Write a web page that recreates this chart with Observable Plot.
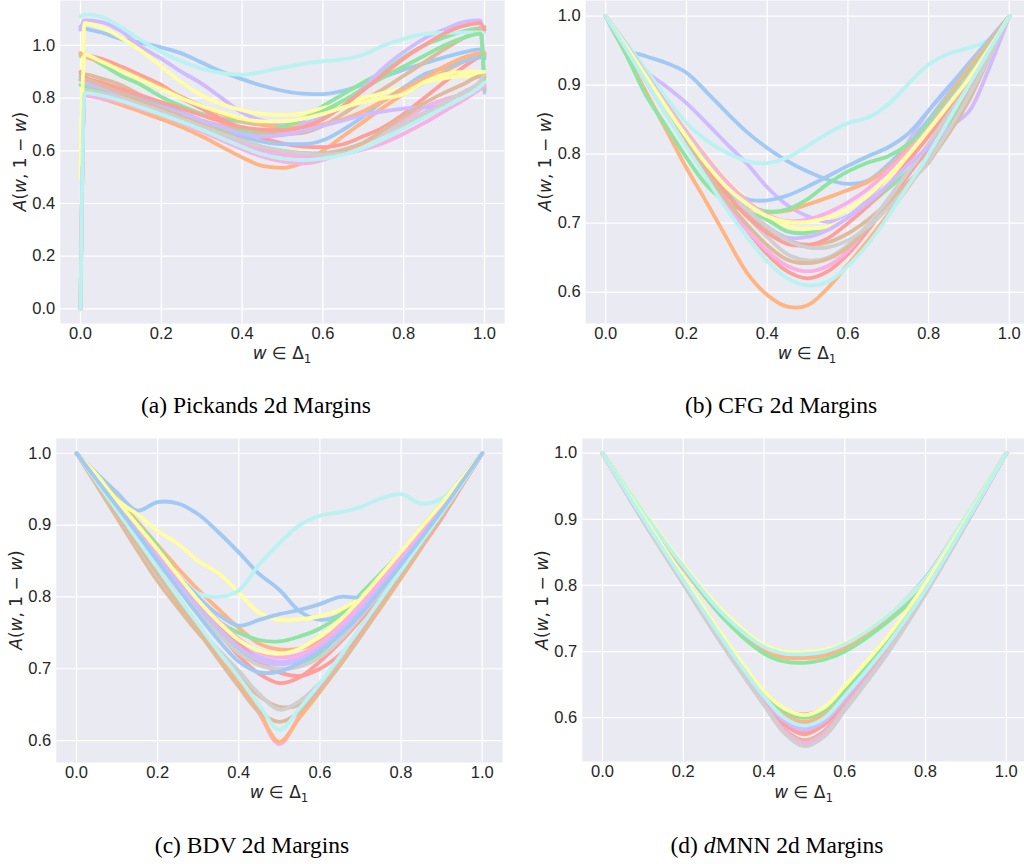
<!DOCTYPE html>
<html><head><meta charset="utf-8">
<script src="https://cdn.jsdelivr.net/npm/d3@7"></script>
<script src="https://cdn.jsdelivr.net/npm/@observablehq/plot@0.6"></script>
<style>
html,body{margin:0;padding:0;background:#fff;overflow:hidden;width:1024px;height:864px;}
#root{position:relative;width:1024px;height:864px;overflow:hidden;}
</style></head><body>
<div id="root"></div>
<script>
// seaborn "pastel" palette
const palette = ["#a1c9f4","#ffb482","#8de5a1","#ff9f9b","#d0bbff","#debb9b","#fab0e4","#cfcfcf","#fffea3","#b9f2f0"];

const xTicks = [0, 0.2, 0.4, 0.6, 0.8, 1.0];
const yTicksA = [0, 0.2, 0.4, 0.6, 0.8, 1.0];
const yTicksBCD = [0.6, 0.7, 0.8, 0.9, 1.0];

// w grids
const gridA = [0,.01,.05,.1,.15,.2,.25,.3,.35,.4,.45,.5,.55,.6,.65,.7,.75,.8,.85,.9,.95,.99,1];
const gridBC = [0,.05,.1,.15,.2,.25,.3,.35,.4,.45,.5,.55,.6,.65,.7,.75,.8,.85,.9,.95,1];
const gridD = [0,.1,.2,.3,.4,.45,.5,.55,.6,.7,.8,.9,1];

// (a) Pickands estimates
const pickands = [
[1.07,1.065,1.05,1.025,1.01,.993,.97,.935,.9,.872,.847,.828,.817,.815,.828,.852,.88,.908,.932,.955,.975,.985,.96],
[0,.815,.80,.775,.748,.72,.69,.655,.615,.575,.543,.535,.555,.60,.655,.71,.765,.815,.86,.90,.94,.965,.97],
[.96,.96,.93,.885,.85,.805,.77,.74,.722,.71,.70,.70,.72,.77,.815,.86,.90,.955,1.0,1.03,1.055,1.067,1.07],
[.97,.965,.95,.92,.886,.85,.80,.76,.72,.685,.65,.628,.616,.614,.625,.655,.69,.74,.80,.86,.92,.96,.97],
[1.06,1.095,1.09,1.055,.995,.95,.9,.855,.8,.745,.715,.705,.705,.73,.78,.84,.915,.975,1.025,1.06,1.09,1.095,.82],
[.89,.89,.875,.85,.81,.775,.74,.715,.695,.68,.668,.663,.668,.695,.74,.79,.835,.885,.935,.985,1.03,1.06,1.06],
[0,.81,.80,.785,.76,.735,.705,.673,.64,.607,.578,.56,.552,.565,.60,.63,.675,.715,.765,.795,.815,.835,.84],
[0,.82,.812,.795,.772,.748,.72,.69,.66,.632,.605,.59,.585,.59,.605,.63,.665,.705,.745,.785,.825,.86,.88],
[.5,1.085,1.07,1.03,.98,.92,.86,.81,.777,.754,.74,.736,.742,.762,.78,.80,.82,.84,.86,.875,.885,.885,.87],
[1.11,1.118,1.11,1.07,1.02,.975,.94,.912,.895,.889,.9,.915,.93,.94,.947,.965,1.0,1.025,1.043,1.048,1.05,1.05,1.05],
[.88,.86,.845,.822,.798,.772,.745,.715,.685,.655,.635,.625,.625,.64,.68,.73,.79,.84,.89,.915,.94,.955,.95],
[.97,.96,.94,.91,.875,.84,.805,.77,.74,.715,.698,.69,.69,.70,.72,.75,.79,.835,.875,.92,.955,.97,.97],
[.85,.845,.83,.80,.77,.74,.71,.69,.68,.676,.675,.69,.72,.75,.79,.835,.88,.92,.96,1.0,1.03,1.045,.83],
[.9,.88,.86,.835,.81,.785,.76,.735,.71,.69,.68,.678,.69,.72,.77,.83,.89,.95,1.0,1.045,1.075,1.085,1.06],
[.87,.86,.84,.815,.79,.765,.74,.715,.69,.665,.655,.66,.675,.695,.715,.735,.75,.76,.765,.77,.8,.85,.85],
[.87,.87,.85,.82,.79,.76,.73,.70,.67,.64,.615,.6,.592,.59,.603,.63,.68,.73,.78,.82,.855,.883,.88],
[0,.815,.805,.79,.768,.742,.715,.685,.655,.625,.6,.585,.578,.58,.59,.605,.63,.665,.705,.75,.795,.835,.845],
[0,.83,.82,.80,.775,.75,.722,.693,.665,.638,.615,.6,.59,.585,.59,.61,.645,.69,.735,.78,.825,.865,.89],
[.55,.965,.94,.905,.87,.835,.8,.77,.745,.722,.712,.712,.722,.74,.765,.785,.8,.815,.86,.89,.9,.9,.9],
[0,.82,.81,.79,.765,.738,.71,.68,.648,.615,.587,.57,.565,.57,.585,.61,.645,.685,.725,.765,.805,.845,.86]
];

// (b) CFG estimates
const cfg = [
[1,.953,.942,.932,.918,.89,.86,.832,.809,.79,.775,.763,.757,.762,.785,.815,.85,.888,.925,.962,1],
[1,.945,.89,.835,.78,.73,.678,.628,.596,.579,.581,.606,.64,.675,.713,.753,.795,.845,.895,.948,1],
[1,.945,.885,.84,.795,.755,.73,.717,.705,.688,.686,.695,.708,.726,.75,.776,.804,.845,.895,.947,1],
[1,.955,.91,.865,.82,.775,.73,.69,.655,.63,.62,.63,.655,.69,.73,.77,.81,.855,.9,.95,1],
[1,.96,.92,.898,.874,.845,.815,.786,.752,.726,.71,.702,.71,.735,.77,.818,.863,.898,.93,.965,1],
[1,.955,.91,.866,.822,.78,.742,.713,.69,.675,.669,.672,.685,.705,.73,.76,.788,.835,.89,.945,1],
[1,.952,.905,.858,.812,.768,.725,.69,.66,.638,.63,.638,.66,.695,.735,.775,.815,.86,.905,.952,1],
[1,.955,.91,.865,.822,.782,.745,.71,.68,.655,.646,.65,.668,.698,.735,.775,.815,.86,.905,.952,1],
[1,.96,.918,.875,.835,.797,.762,.735,.712,.696,.692,.695,.708,.728,.758,.795,.835,.875,.915,.958,1],
[1,.962,.922,.882,.845,.82,.802,.79,.787,.795,.812,.83,.845,.853,.872,.902,.93,.946,.954,.966,1],
[1,.958,.915,.872,.83,.79,.757,.735,.733,.74,.753,.768,.783,.797,.81,.83,.863,.897,.932,.966,1],
[1,.955,.91,.866,.822,.78,.745,.725,.716,.718,.727,.737,.748,.76,.78,.81,.845,.885,.925,.962,1],
[1,.952,.905,.86,.815,.775,.745,.727,.717,.72,.735,.757,.775,.788,.797,.815,.845,.88,.918,.958,1],
[1,.955,.91,.865,.82,.78,.742,.71,.686,.67,.668,.678,.7,.725,.755,.79,.826,.868,.91,.955,1],
[1,.958,.915,.872,.83,.79,.752,.72,.695,.679,.68,.69,.708,.73,.756,.785,.81,.838,.862,.925,1],
[1,.955,.908,.862,.817,.773,.733,.698,.668,.647,.642,.648,.665,.693,.725,.758,.79,.83,.878,.94,1],
[1,.958,.915,.873,.833,.795,.76,.732,.712,.703,.705,.715,.73,.75,.776,.805,.838,.875,.913,.955,1],
[1,.957,.914,.87,.828,.788,.752,.72,.695,.675,.665,.665,.675,.695,.722,.755,.79,.835,.885,.94,1],
[1,.957,.913,.868,.825,.785,.752,.728,.71,.702,.702,.708,.72,.74,.768,.8,.835,.872,.91,.953,1],
[1,.953,.905,.858,.81,.765,.72,.68,.645,.62,.61,.615,.638,.67,.71,.755,.8,.85,.9,.95,1]
];

// (c) BDV estimates
const bdv = [
[1,.972,.945,.92,.932,.93,.915,.89,.862,.832,.81,.78,.768,.775,.795,.825,.86,.895,.93,.965,1],
[1,.968,.937,.905,.872,.84,.81,.783,.757,.735,.727,.728,.738,.76,.79,.825,.86,.895,.93,.965,1],
[1,.968,.935,.903,.87,.83,.79,.766,.75,.74,.738,.745,.756,.775,.804,.833,.862,.897,.93,.965,1],
[1,.965,.93,.893,.855,.818,.782,.75,.718,.693,.68,.688,.71,.737,.768,.80,.835,.87,.91,.955,1],
[1,.966,.932,.896,.86,.824,.79,.76,.735,.717,.71,.715,.73,.755,.785,.82,.852,.888,.925,.962,1],
[1,.955,.91,.865,.822,.785,.75,.72,.69,.662,.647,.65,.675,.71,.75,.79,.83,.873,.915,.958,1],
[1,.96,.92,.88,.84,.8,.76,.72,.68,.638,.595,.635,.675,.715,.757,.798,.838,.878,.918,.958,1],
[1,.958,.915,.872,.83,.792,.757,.726,.697,.665,.643,.655,.68,.713,.75,.79,.83,.872,.914,.957,1],
[1,.97,.935,.915,.892,.874,.85,.833,.806,.778,.768,.769,.773,.782,.8,.825,.855,.89,.925,.962,1],
[1,.965,.932,.895,.86,.83,.805,.80,.809,.845,.875,.9,.913,.918,.925,.937,.943,.93,.937,.965,1],
[1,.965,.93,.893,.86,.83,.8,.775,.76,.768,.776,.782,.79,.80,.80,.826,.858,.893,.928,.964,1],
[1,.96,.92,.88,.84,.8,.76,.72,.68,.64,.598,.632,.668,.706,.745,.785,.826,.868,.91,.955,1],
[1,.965,.93,.893,.857,.82,.785,.755,.728,.708,.699,.705,.722,.748,.78,.815,.85,.885,.922,.96,1],
[1,.966,.932,.896,.86,.825,.79,.76,.735,.71,.695,.69,.70,.72,.75,.79,.83,.87,.91,.955,1],
[1,.964,.928,.892,.856,.82,.786,.756,.73,.712,.706,.712,.728,.752,.782,.815,.85,.886,.922,.96,1],
[1,.958,.915,.873,.832,.792,.752,.713,.675,.64,.626,.64,.67,.705,.745,.787,.828,.87,.912,.956,1],
[1,.966,.932,.897,.862,.828,.795,.767,.742,.723,.716,.72,.735,.76,.79,.823,.857,.89,.926,.963,1],
[1,.962,.925,.888,.85,.813,.778,.748,.722,.705,.70,.703,.716,.74,.772,.806,.84,.877,.916,.957,1],
[1,.967,.934,.9,.866,.83,.795,.765,.74,.725,.721,.728,.745,.768,.797,.83,.863,.897,.93,.965,1],
[1,.96,.92,.88,.84,.8,.762,.724,.688,.65,.615,.645,.68,.718,.757,.797,.837,.877,.917,.958,1],
[1,.963,.926,.888,.85,.812,.775,.74,.71,.695,.696,.708,.725,.748,.776,.81,.845,.882,.92,.96,1]
];

// (d) dMNN estimates
const dmnn = [
[1,.912,.826,.752,.705,.694,.693,.697,.708,.750,.812,.905,1],
[1,.911,.826,.751,.702,.691,.690,.694,.705,.747,.806,.902,1],
[1,.913,.828,.750,.697,.685,.683,.688,.700,.742,.800,.900,1],
[1,.905,.812,.720,.638,.612,.605,.615,.645,.715,.800,.898,1],
[1,.902,.808,.715,.630,.598,.585,.598,.630,.705,.793,.896,1],
[1,.900,.805,.712,.627,.590,.578,.590,.625,.700,.790,.894,1],
[1,.900,.804,.710,.623,.583,.565,.580,.618,.697,.790,.894,1],
[1,.899,.803,.708,.620,.578,.558,.573,.612,.693,.788,.893,1],
[1,.914,.832,.760,.710,.700,.699,.703,.713,.752,.810,.905,1],
[1,.912,.829,.756,.707,.697,.696,.700,.711,.751,.809,.904,1],
[1,.902,.808,.716,.633,.602,.590,.602,.635,.708,.795,.896,1],
[1,.903,.810,.718,.636,.606,.594,.606,.638,.710,.797,.897,1],
[1,.904,.811,.720,.638,.610,.600,.611,.642,.713,.799,.897,1],
[1,.901,.806,.713,.628,.590,.575,.590,.625,.700,.792,.895,1],
[1,.901,.806,.714,.630,.595,.582,.595,.628,.703,.793,.895,1],
[1,.899,.803,.709,.622,.582,.566,.580,.618,.697,.790,.893,1],
[1,.899,.803,.709,.621,.580,.562,.577,.615,.695,.789,.893,1],
[1,.898,.802,.707,.619,.577,.557,.572,.611,.692,.787,.892,1],
[1,.905,.813,.722,.640,.614,.604,.616,.648,.718,.803,.899,1],
[1,.902,.808,.716,.632,.600,.588,.600,.633,.706,.794,.896,1]
];

const xLabelParts = [{t:"w", i:true}, {t:" ∈ Δ"}, {t:"1", sub:true}];
const yLabelParts = [{t:"A", i:true}, {t:"("}, {t:"w", i:true}, {t:", 1 − "}, {t:"w", i:true}, {t:")"}];

const panels = [
  {left:0, top:0, width:512, height:425, mt:0, mb:102, ml:59.8, mr:7.8, yDomain:[-0.0557,1.1707], yTicks:yTicksA, grid:gridA, series:pickands, curve:"monotone-x",
   ylx:26, yly:161.5, xlx:282, xly:359, caption:[{t:"(a) Pickands 2d Margins"}], cx:256, cy:413},
  {left:512, top:0, width:517, height:425, mt:0, mb:102, ml:73.1, mr:0, yDomain:[0.5546,1.0227], yTicks:yTicksBCD, grid:gridBC, series:cfg, curve:"catmull-rom",
   ylx:39, yly:161.5, xlx:295, xly:359, caption:[{t:"(b) CFG 2d Margins"}], cx:269, cy:413},
  {left:0, top:430, width:512, height:434, mt:8, mb:102, ml:55.7, mr:10, yDomain:[0.5695,1.0205], yTicks:yTicksBCD, grid:gridBC, series:bdv, curve:"catmull-rom",
   ylx:22, yly:170, xlx:279, xly:368, caption:[{t:"(c) BDV 2d Margins"}], cx:252, cy:423},
  {left:512, top:430, width:514, height:434, mt:8, mb:103, ml:69.8, mr:0, yDomain:[0.5338,1.0222], yTicks:yTicksBCD, grid:gridD, series:dmnn, curve:"catmull-rom",
   ylx:36, yly:170, xlx:291.6, xly:368, caption:[{t:"(d) "},{t:"d", i:true},{t:"MNN 2d Margins"}], cx:265, cy:423}
];

function addParts(text, parts) {
  parts.forEach(p => {
    const ts = text.append("tspan").text(p.t);
    if (p.i) ts.attr("font-style", "italic");
    if (p.sub) ts.attr("font-size", "0.7em").attr("dy", "0.3em");
  });
}

const root = document.getElementById("root");
const fmt = d3.format(".1f");

panels.forEach(p => {
  const rows = p.series.flatMap((ys, k) => ys.map((y, i) => ({x: p.grid[i], y, k})));
  const svg = Plot.plot({
    width: p.width, height: p.height,
    marginTop: p.mt, marginBottom: p.mb, marginLeft: p.ml, marginRight: p.mr,
    style: {fontFamily: "'Liberation Sans', Arial, sans-serif", fontSize: "16px", color: "#262626", background: "transparent", overflow: "visible"},
    x: {domain: [-0.05, 1.05], label: null},
    y: {domain: p.yDomain, label: null},
    color: {type: "ordinal", domain: d3.range(10), range: palette},
    marks: [
      Plot.frame({fill: "#eaeaf2", stroke: "none"}),
      Plot.gridX({ticks: xTicks, stroke: "white", strokeOpacity: 1, strokeWidth: 1.2}),
      Plot.gridY({ticks: p.yTicks, stroke: "white", strokeOpacity: 1, strokeWidth: 1.2}),
      Plot.axisX({ticks: xTicks, tickSize: 0, tickPadding: 4, tickFormat: fmt, fontSize: 16.5, label: null}),
      Plot.axisY({ticks: p.yTicks, tickSize: 0, tickPadding: 5, tickFormat: fmt, fontSize: 16.5, label: null}),
      Plot.line(rows, {x: "x", y: "y", z: "k", stroke: d => d.k % 10, strokeWidth: 3.8,
        curve: p.curve, strokeLinecap: "round", strokeLinejoin: "round", clip: true})
    ]
  });
  svg.style.position = "absolute";
  svg.style.left = p.left + "px";
  svg.style.top = p.top + "px";
  const s = d3.select(svg);
  const yl = s.append("text")
    .attr("transform", `translate(${p.ylx},${p.yly}) rotate(-90)`)
    .attr("text-anchor", "middle").attr("font-family", "'DejaVu Sans', sans-serif")
    .attr("font-size", 17).attr("fill", "#262626");
  addParts(yl, yLabelParts);
  const xl = s.append("text")
    .attr("x", p.xlx).attr("y", p.xly)
    .attr("text-anchor", "middle").attr("font-family", "'DejaVu Sans', sans-serif")
    .attr("font-size", 17).attr("fill", "#262626");
  addParts(xl, xLabelParts);
  const cap = s.append("text")
    .attr("x", p.cx).attr("y", p.cy)
    .attr("text-anchor", "middle").attr("font-family", "'Liberation Serif', 'Times New Roman', serif")
    .attr("font-size", 23.5).attr("fill", "#000");
  addParts(cap, p.caption);
  root.appendChild(svg);
});
</script>
</body></html>
